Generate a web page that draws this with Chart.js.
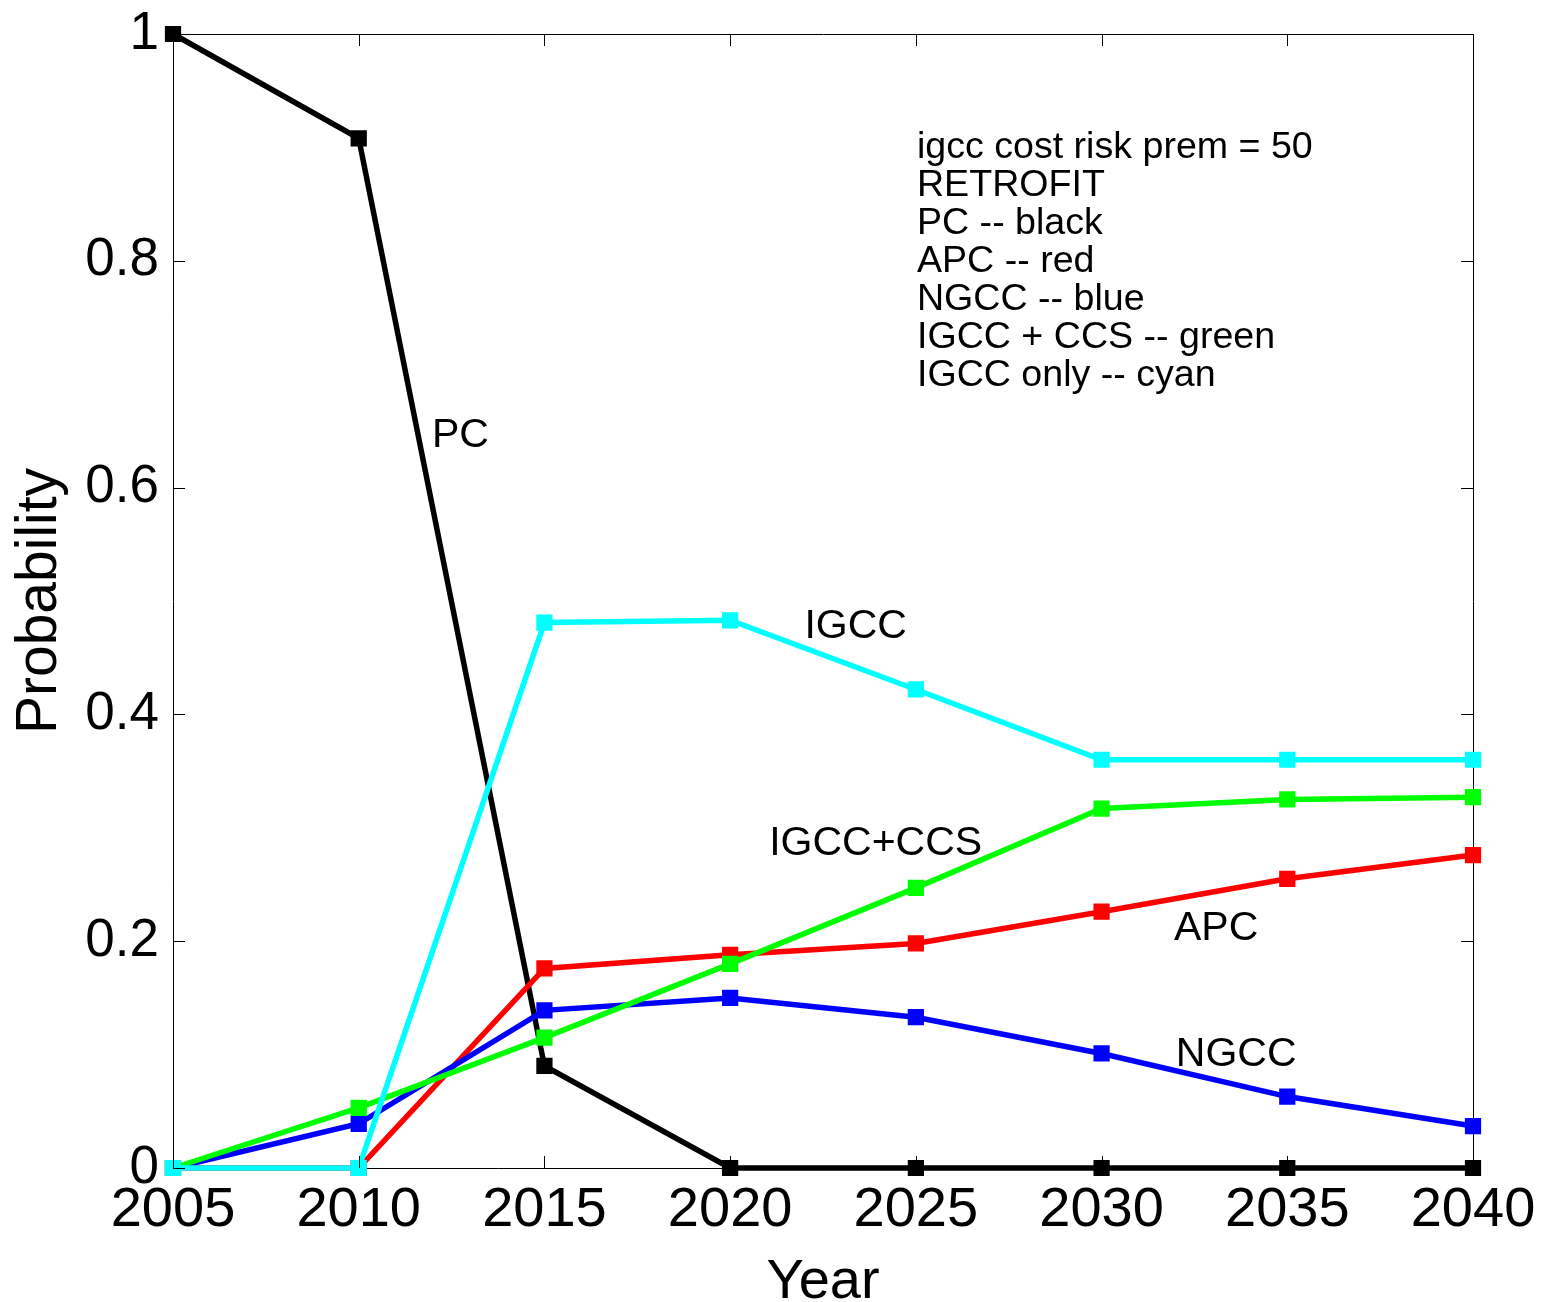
<!doctype html>
<html lang="en">
<head>
  <meta charset="utf-8" />
  <title>Probability by Year</title>
  <script src="https://cdn.jsdelivr.net/npm/chart.js"></script>
  <style>
    html, body { margin: 0; padding: 0; background: #fff; }
    #wrap { width: 1541px; height: 1302px; }
  </style>
</head>
<body>
  <div id="wrap"><canvas id="probChart" width="1541" height="1302"></canvas></div>

  <script>
    // Data
    const years = [2005, 2010, 2015, 2020, 2025, 2030, 2035, 2040];
    const pc      = [1.000, 0.908, 0.090, 0.000, 0.000, 0.000, 0.000, 0.000];
    const apc     = [0.000, 0.000, 0.176, 0.188, 0.198, 0.226, 0.255, 0.276];
    const ngcc    = [0.000, 0.039, 0.139, 0.150, 0.133, 0.101, 0.063, 0.037];
    const igccCcs = [0.000, 0.053, 0.115, 0.180, 0.247, 0.317, 0.325, 0.327];
    const igcc    = [0.000, 0.000, 0.481, 0.483, 0.422, 0.360, 0.360, 0.360];

    const yTicks = [0, 0.2, 0.4, 0.6, 0.8, 1];

    // in-plot labels: [text, year, probability]
    const curveLabels = [
      ['PC', 2011.97, 0.646],
      ['IGCC', 2022.0, 0.477],
      ['IGCC+CCS', 2021.05, 0.286],
      ['APC', 2031.95, 0.211],
      ['NGCC', 2032.0, 0.100]
    ];
    const noteLines = [
      'igcc cost risk prem = 50',
      'RETROFIT',
      'PC -- black',
      'APC -- red',
      'NGCC -- blue',
      'IGCC + CCS -- green',
      'IGCC only -- cyan'
    ];
    const notePos = [2025.03, 0.900];

    const FONT = '"Liberation Sans", Arial, sans-serif';

    function pts(vals) {
      return vals.map((v, i) => ({ x: years[i], y: v }));
    }

    function series(label, vals, color, order) {
      return {
        label: label,
        data: pts(vals),
        borderColor: color,
        backgroundColor: color,
        borderWidth: 5.5,
        pointStyle: 'rect',
        pointRadius: 9,
        pointBorderWidth: 3.5,
        pointBackgroundColor: color,
        pointBorderColor: color,
        order: order,
        clip: false
      };
    }

    // no extra room for edge labels: the plot box is fixed
    function noPad(s) {
      s.paddingTop = 0; s.paddingBottom = 0;
      s.paddingLeft = 0; s.paddingRight = 0;
    }

    // inward ticks on all four sides + text annotations
    const framePlugin = {
      id: 'frame',
      afterDatasetsDraw(chart) {
        const ctx = chart.ctx;
        const a = chart.chartArea;
        const xs = chart.scales.x, ys = chart.scales.y;
        const len = 12;
        ctx.save();
        ctx.strokeStyle = '#000';
        ctx.lineWidth = 1;
        ctx.beginPath();
        xs.ticks.forEach(t => {
          const px = Math.round(xs.getPixelForValue(t.value)) + 0.5;
          ctx.moveTo(px, a.bottom); ctx.lineTo(px, a.bottom - len);
          ctx.moveTo(px, a.top); ctx.lineTo(px, a.top + len);
        });
        ys.ticks.forEach(t => {
          const py = Math.round(ys.getPixelForValue(t.value)) + 0.5;
          ctx.moveTo(a.left, py); ctx.lineTo(a.left + len, py);
          ctx.moveTo(a.right, py); ctx.lineTo(a.right - len, py);
        });
        ctx.stroke();

        ctx.fillStyle = '#000';
        ctx.textAlign = 'left';
        ctx.textBaseline = 'middle';
        ctx.font = '41px ' + FONT;
        curveLabels.forEach(([txt, x, y]) => {
          ctx.fillText(txt, xs.getPixelForValue(x), ys.getPixelForValue(y));
        });

        ctx.font = '37.6px ' + FONT;
        const nx = xs.getPixelForValue(notePos[0]);
        const ny = ys.getPixelForValue(notePos[1]);
        noteLines.forEach((line, i) => {
          ctx.fillText(line, nx, ny + i * 38);
        });
        ctx.restore();
      }
    };

    const ctx = document.getElementById('probChart').getContext('2d');
    const probChart = new Chart(ctx, {
      type: 'line',
      data: {
        datasets: [
          series('PC', pc, '#000000', 5),
          series('APC', apc, '#ff0000', 4),
          series('NGCC', ngcc, '#0000ff', 3),
          series('IGCC + CCS', igccCcs, '#00ff00', 2),
          series('IGCC only', igcc, '#00ffff', 1)
        ]
      },
      options: {
        responsive: false,
        animation: false,
        layout: { padding: 0 },
        plugins: {
          legend: { display: false },
          tooltip: { enabled: false }
        },
        elements: { line: { tension: 0 } },
        scales: {
          x: {
            type: 'linear',
            position: 'bottom',
            min: 2005,
            max: 2040,
            afterFit: s => { s.height = 134; noPad(s); },
            afterBuildTicks: s => { s.ticks = years.map(v => ({ value: v })); },
            grid: { display: false, drawTicks: false },
            border: { display: true, color: '#000', width: 1 },
            ticks: {
              color: '#000',
              font: { family: FONT, size: 56, lineHeight: 1 },
              padding: 15,
              maxRotation: 0,
              autoSkip: false,
              callback: v => String(v)
            },
            title: {
              display: true,
              text: 'Year',
              color: '#000',
              font: { family: FONT, size: 56 },
              padding: { top: 0, bottom: -14 }
            }
          },
          x2: {
            type: 'linear',
            position: 'top',
            min: 2005,
            max: 2040,
            afterFit: s => { s.height = 34; noPad(s); },
            grid: { display: false, drawTicks: false },
            border: { display: true, color: '#000', width: 1 },
            ticks: { display: false }
          },
          y: {
            type: 'linear',
            position: 'left',
            min: 0,
            max: 1,
            afterFit: s => { s.width = 173; noPad(s); },
            afterBuildTicks: s => { s.ticks = yTicks.map(v => ({ value: v })); },
            grid: { display: false, drawTicks: false },
            border: { display: true, color: '#000', width: 1 },
            ticks: {
              color: '#000',
              font: { family: FONT, size: 53, lineHeight: 1 },
              padding: 14,
              callback: v => String(Number(v.toFixed(1)))
            },
            title: {
              display: true,
              text: 'Probability',
              color: '#000',
              font: { family: FONT, size: 57 },
              padding: { top: 6, bottom: 0 }
            }
          },
          y2: {
            type: 'linear',
            position: 'right',
            min: 0,
            max: 1,
            afterFit: s => { s.width = 68; noPad(s); },
            grid: { display: false, drawTicks: false },
            border: { display: true, color: '#000', width: 1 },
            ticks: { display: false }
          }
        }
      },
      plugins: [framePlugin]
    });
  </script>
</body>
</html>
